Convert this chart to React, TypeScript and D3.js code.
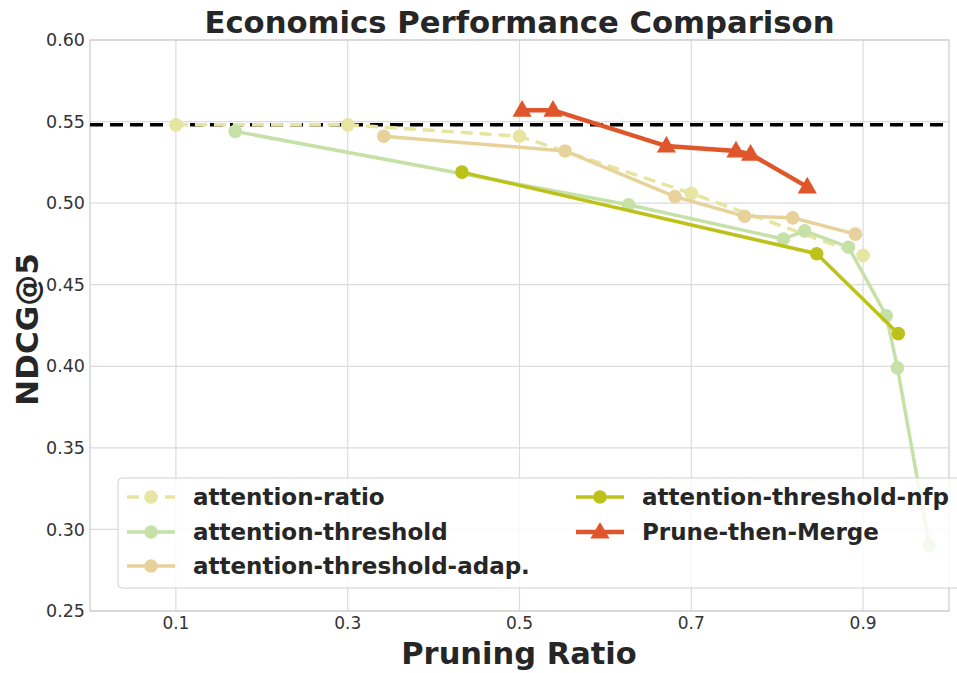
import React from "react";
import * as d3 from "d3";

const ratioX = [0.1, 0.3, 0.5, 0.7, 0.9];
const ratioY = [0.548, 0.548, 0.541, 0.506, 0.468];
const thrX = [0.169, 0.627, 0.807, 0.832, 0.883, 0.927, 0.94, 0.977];
const thrY = [0.544, 0.499, 0.478, 0.483, 0.473, 0.431, 0.399, 0.29];
const adapX = [0.342, 0.553, 0.681, 0.762, 0.818, 0.891];
const adapY = [0.541, 0.532, 0.504, 0.492, 0.491, 0.481];
const nfpX = [0.433, 0.846, 0.941];
const nfpY = [0.519, 0.469, 0.42];
const ptmX = [0.503, 0.539, 0.671, 0.752, 0.769, 0.835];
const ptmY = [0.557, 0.557, 0.535, 0.532, 0.53, 0.51];
const baseline = 0.548;
const xTicks = [0.1, 0.3, 0.5, 0.7, 0.9];
const yTicks = [0.25, 0.3, 0.35, 0.4, 0.45, 0.5, 0.55, 0.6];

const series = [
  { name: "attention-ratio", xs: ratioX, ys: ratioY, color: "#e6e6a2", dash: "12,7", marker: "circle", width: 3.5 },
  { name: "attention-threshold", xs: thrX, ys: thrY, color: "#c6e1a7", dash: null, marker: "circle", width: 3.5 },
  { name: "attention-threshold-adap.", xs: adapX, ys: adapY, color: "#e8d29c", dash: null, marker: "circle", width: 3.5 },
  { name: "attention-threshold-nfp", xs: nfpX, ys: nfpY, color: "#bdc21b", dash: null, marker: "circle", width: 3.5 },
  { name: "Prune-then-Merge", xs: ptmX, ys: ptmY, color: "#e0562b", dash: null, marker: "triangle", width: 4.5 },
];

export default function App() {
  const W = 957, H = 673;
  const L = 90, R = 949, T = 40, B = 611;
  const x = d3.scaleLinear().domain([0, 1.0]).range([L, R]);
  const y = d3.scaleLinear().domain([0.25, 0.6]).range([B, T]);
  const line = d3.line<[number, number]>().x(d => x(d[0])).y(d => y(d[1]));
  const tri = d3.symbol().type(d3.symbolTriangle).size(160)();
  const font = "'DejaVu Sans', sans-serif";

  const legendItems = [
    { s: series[0], lx: 127, ly: 497 },
    { s: series[1], lx: 127, ly: 532 },
    { s: series[2], lx: 127, ly: 566 },
    { s: series[3], lx: 576, ly: 497 },
    { s: series[4], lx: 576, ly: 532 },
  ];

  const marker = (s: any, cx: number, cy: number, key: any) =>
    s.marker === "triangle" ? (
      <path key={key} d={tri as string} transform={`translate(${cx},${cy + 1})`} fill={s.color} />
    ) : (
      <circle key={key} cx={cx} cy={cy} r={6.8} fill={s.color} />
    );

  return (
    <svg width={W} height={H} style={{ position: "absolute", left: 0, top: 0, background: "#fff" }}>
      <rect x={0} y={0} width={W} height={H} fill="#fff" />
      {xTicks.map(t => (
        <line key={"gx" + t} x1={x(t)} x2={x(t)} y1={T} y2={B} stroke="#dcdcdc" strokeWidth={1.2} />
      ))}
      {yTicks.map(t => (
        <line key={"gy" + t} x1={L} x2={R} y1={y(t)} y2={y(t)} stroke="#dcdcdc" strokeWidth={1.2} />
      ))}
      <rect x={L} y={T} width={R - L} height={B - T} fill="none" stroke="#cccccc" strokeWidth={1.2} />
      <line x1={L} x2={R} y1={y(baseline)} y2={y(baseline)} stroke="#000" strokeWidth={3.5} strokeDasharray="13,7" />
      {series.map(s => {
        const pts = s.xs.map((v, i) => [v, s.ys[i]] as [number, number]);
        return (
          <g key={s.name}>
            <path d={line(pts) as string} fill="none" stroke={s.color} strokeWidth={s.width} strokeDasharray={s.dash ?? undefined} />
            {pts.map((p, i) => marker(s, x(p[0]), y(p[1]), i))}
          </g>
        );
      })}
      {yTicks.map(t => (
        <text key={"ty" + t} x={L - 5} y={y(t)} dy="0.35em" textAnchor="end" fontFamily={font} fontSize={17.5} fill="#333">
          {t.toFixed(2)}
        </text>
      ))}
      {xTicks.map(t => (
        <text key={"tx" + t} x={x(t)} y={B + 12} dy="0.35em" textAnchor="middle" fontFamily={font} fontSize={17} fill="#333">
          {t.toFixed(1)}
        </text>
      ))}
      <text x={(L + R) / 2} y={22} dy="0.35em" textAnchor="middle" fontFamily={font} fontWeight="bold" fontSize={30.7} fill="#262626">
        Economics Performance Comparison
      </text>
      <text x={519} y={653} dy="0.35em" textAnchor="middle" fontFamily={font} fontWeight="bold" fontSize={30.5} fill="#262626">
        Pruning Ratio
      </text>
      <text transform={`translate(27,${(T + B) / 2 + 4}) rotate(-90)`} dy="0.35em" textAnchor="middle" fontFamily={font} fontWeight="bold" fontSize={31} fill="#262626">
        NDCG@5
      </text>
      <rect x={118} y={478} width={850} height={110} rx={4} fill="#ffffff" fillOpacity={0.82} stroke="#d0d0d0" strokeWidth={1} />
      {legendItems.map(({ s, lx, ly }) => (
        <g key={"lg" + s.name}>
          <line x1={lx} x2={lx + 48} y1={ly} y2={ly} stroke={s.color} strokeWidth={s.width} strokeDasharray={s.dash ?? undefined} />
          {marker(s, lx + 24, ly, "m")}
          <text x={lx + 66} y={ly} dy="0.35em" fontFamily={font} fontWeight="bold" fontSize={23} fill="#262626">
            {s.name}
          </text>
        </g>
      ))}
    </svg>
  );
}
